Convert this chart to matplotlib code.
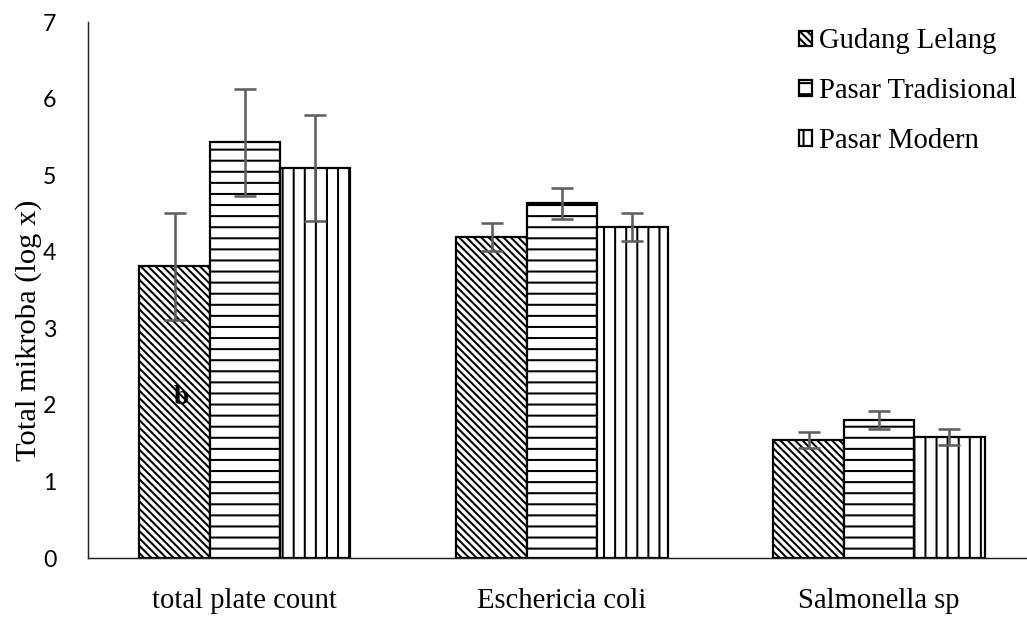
import numpy as np
import matplotlib
matplotlib.use("Agg")
import matplotlib.pyplot as plt

# -------------------------------
# Data
# -------------------------------
categories = ["total plate count", "Eschericia coli", "Salmonella sp"]
series = ["Gudang Lelang", "Pasar Tradisional", "Pasar Modern"]
gudang = [3.81, 4.19, 1.54]
tradisional = [5.43, 4.63, 1.80]
modern = [5.09, 4.32, 1.58]
err_gudang = [0.70, 0.18, 0.10]
err_tradisional = [0.70, 0.20, 0.12]
err_modern = [0.69, 0.18, 0.11]

values = [gudang, tradisional, modern]
errors = [err_gudang, err_tradisional, err_modern]
BS = chr(92)  # backslash
hatches = [BS * 6, "--", "||"]

# -------------------------------
# Plot
# -------------------------------
DPI = 133
plt.rcParams["hatch.linewidth"] = 1.1
plt.rcParams["hatch.color"] = "black"

fig = plt.figure(figsize=(1027 / DPI, 617 / DPI), dpi=DPI)
ax = fig.add_axes([0.0857, 0.0956, 0.9143, 0.8687])

x = np.arange(len(categories))
width = 0.222
for i, (vals, errs, h, name) in enumerate(zip(values, errors, hatches, series)):
    pos = x + (i - 1) * width
    ax.bar(pos, vals, width, facecolor="white", edgecolor="black",
           linewidth=1.2, hatch=h, label=name, zorder=2)
    ax.errorbar(pos, vals, yerr=errs, fmt="none", ecolor="#5f5f5f",
                elinewidth=1.4, capsize=6, capthick=1.4, zorder=3)

ax.text(-0.2, 2.1, "b", family="Liberation Serif", fontweight="bold",
        fontsize=15, ha="center", va="center", zorder=4)

ax.set_xlim(-0.495, 2.467)
ax.set_ylim(0, 7)
ax.set_yticks(range(0, 8))
ax.set_xticks(x)
ax.set_xticklabels(categories, family="Liberation Serif", fontsize=15.5)
for lbl in ax.get_yticklabels():
    lbl.set_family("Lato")
    lbl.set_fontsize(12.5)
ax.tick_params(axis="y", length=0, pad=17)
ax.tick_params(axis="x", length=0, pad=16)
ax.set_ylabel("Total mikroba (log x)", family="Liberation Serif",
              fontsize=16.5)
ax.yaxis.set_label_coords(-0.049, 0.425)

for side in ["top", "right"]:
    ax.spines[side].set_visible(False)
for side in ["left", "bottom"]:
    ax.spines[side].set_linewidth(0.8)
    ax.spines[side].set_color("#222222")

ax.legend(loc="upper right", bbox_to_anchor=(1.008, 1.02), frameon=False,
          prop={"family": "Liberation Serif", "size": 15.5},
          handlelength=0.45, handleheight=0.45, handletextpad=0.25,
          labelspacing=0.83, borderaxespad=0.2)

plt.savefig("out.png", dpi=DPI)
